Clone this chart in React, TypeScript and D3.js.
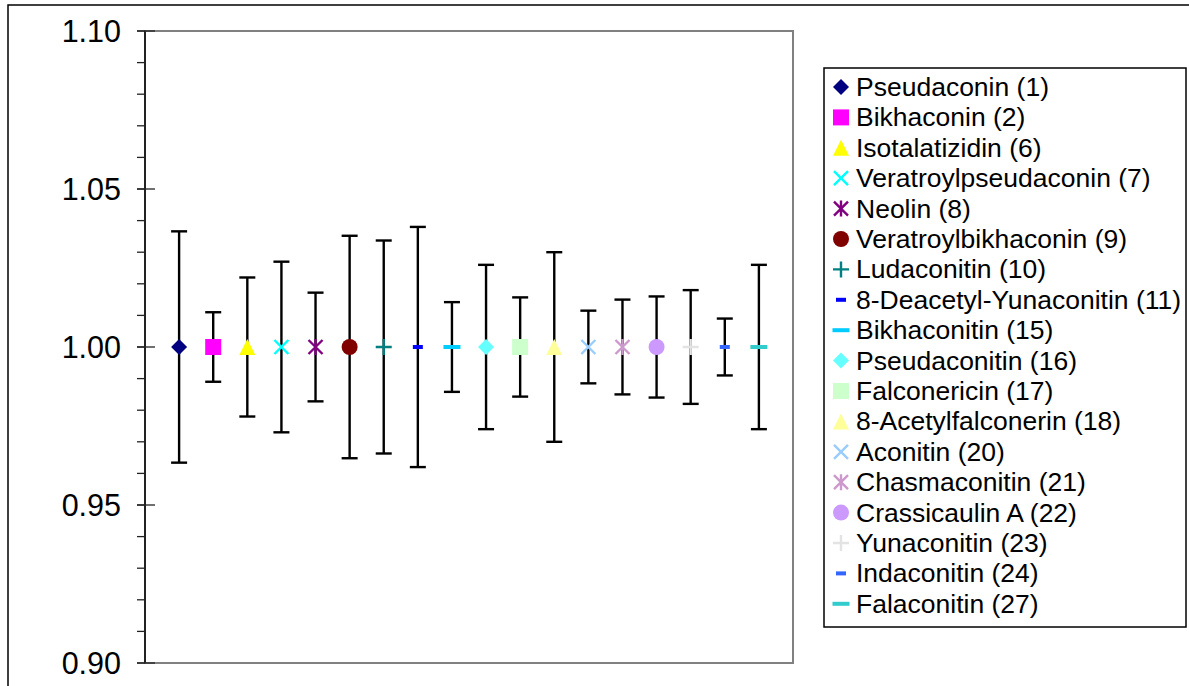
import React from "react";
import * as d3 from "d3";

const names = [
  "Pseudaconin (1)",
  "Bikhaconin (2)",
  "Isotalatizidin (6)",
  "Veratroylpseudaconin (7)",
  "Neolin (8)",
  "Veratroylbikhaconin (9)",
  "Ludaconitin (10)",
  "8-Deacetyl-Yunaconitin (11)",
  "Bikhaconitin (15)",
  "Pseudaconitin (16)",
  "Falconericin (17)",
  "8-Acetylfalconerin (18)",
  "Aconitin (20)",
  "Chasmaconitin (21)",
  "Crassicaulin A (22)",
  "Yunaconitin (23)",
  "Indaconitin (24)",
  "Falaconitin (27)",
];
const means = [1, 1, 1, 1, 1, 1, 1, 1, 1, 1, 1, 1, 1, 1, 1, 1, 1, 1];
const errors = [
  0.0366, 0.011, 0.022, 0.027, 0.0172, 0.0352, 0.0337, 0.038, 0.0142, 0.026,
  0.0157, 0.030, 0.0115, 0.015, 0.016, 0.018, 0.009, 0.026,
];
const colors = [
  "#000080", "#FF00FF", "#FFFF00", "#00FFFF", "#800080", "#800000", "#008080",
  "#0000FF", "#00CCFF", "#66FFFF", "#CCFFCC", "#FFFF99", "#99CCFF", "#CC99CC",
  "#CC99FF", "#E3E3E3", "#3366FF", "#33CCCC",
];
const shapes = [
  "diamond", "square", "triangle", "x", "star", "circle", "plus", "dashShort",
  "dashLong", "diamond", "square", "triangle", "x", "star", "circle", "plus",
  "dashShort", "dashLong",
];
const yTicks = [0.9, 0.95, 1.0, 1.05, 1.1];
const yMinorTicks = d3.range(0, 21).map((i) => 0.9 + i * 0.01);

const FONT = "Arial, 'Liberation Sans', sans-serif";

function Marker({ shape, color, x, y }: { shape: string; color: string; x: number; y: number }) {
  const t = `translate(${x},${y})`;
  switch (shape) {
    case "diamond":
      return <path transform={t} d="M0,-8L8,0L0,8L-8,0Z" fill={color} />;
    case "square":
      return <rect transform={t} x={-8} y={-8} width={16} height={16} fill={color} />;
    case "triangle":
      return <path transform={t} d="M0,-8L8,8L-8,8Z" fill={color} />;
    case "circle":
      return <circle transform={t} r={8} fill={color} />;
    case "x":
      return (
        <path transform={t} d="M-7,-7L7,7M-7,7L7,-7" stroke={color} strokeWidth={2.4} fill="none" />
      );
    case "star":
      return (
        <path
          transform={t}
          d="M-7,-7L7,7M-7,7L7,-7M0,-8L0,8"
          stroke={color}
          strokeWidth={2.4}
          fill="none"
        />
      );
    case "plus":
      return (
        <path transform={t} d="M-8,0L8,0M0,-8L0,8" stroke={color} strokeWidth={2.4} fill="none" />
      );
    case "dashShort":
      return <rect transform={t} x={-5} y={-2} width={10} height={4} fill={color} />;
    case "dashLong":
      return <rect transform={t} x={-8.5} y={-2} width={17} height={4} fill={color} />;
    default:
      return null;
  }
}

export default function App() {
  const W = 1189;
  const H = 686;
  const left = 145;
  const right = 793;
  const top = 31;
  const bottom = 663;

  const x = d3.scaleLinear().domain([0, names.length + 1]).range([left, right]);
  const y = d3.scaleLinear().domain([0.9, 1.1]).range([bottom, top]);

  const legX = 824;
  const legY = 68;
  const legW = 362;
  const legH = 559;
  const rowY0 = 87;
  const rowStep = 30.4;

  return (
    <svg
      width={W}
      height={H}
      style={{ position: "absolute", left: 0, top: 0, background: "#fff" }}
    >
      <rect x={0} y={0} width={W} height={H} fill="#fff" />
      {/* outer chart border */}
      <rect x={8} y={5} width={W + 20} height={H + 20} fill="none" stroke="#000" strokeWidth={1.5} />

      {/* plot area border */}
      <rect
        x={left}
        y={top}
        width={right - left}
        height={bottom - top}
        fill="#fff"
        stroke="#808080"
        strokeWidth={2}
      />

      {/* y axis */}
      <line x1={left} x2={left} y1={top} y2={bottom} stroke="#222" strokeWidth={2} />
      {yMinorTicks.map((v, i) => (
        <line key={"m" + i} x1={137} x2={left} y1={y(v)} y2={y(v)} stroke="#222" strokeWidth={1.3} />
      ))}
      {yTicks.map((v, i) => (
        <g key={"t" + i}>
          <line x1={137} x2={155} y1={y(v)} y2={y(v)} stroke="#222" strokeWidth={1.3} />
          <text
            x={121}
            y={y(v)}
            textAnchor="end"
            dominantBaseline="central"
            fontFamily={FONT}
            fontSize={30.5}
            fill="#000"
          >
            {d3.format(".2f")(v)}
          </text>
        </g>
      ))}

      {/* error bars */}
      {names.map((n, i) => {
        const cx = x(i + 1);
        const y1 = y(means[i] + errors[i]);
        const y2 = y(means[i] - errors[i]);
        return (
          <g key={"e" + i} stroke="#000" strokeWidth={2.4}>
            <line x1={cx} x2={cx} y1={y1} y2={y2} />
            <line x1={cx - 8} x2={cx + 8} y1={y1} y2={y1} />
            <line x1={cx - 8} x2={cx + 8} y1={y2} y2={y2} />
          </g>
        );
      })}

      {/* markers */}
      {names.map((n, i) => (
        <Marker key={"p" + i} shape={shapes[i]} color={colors[i]} x={x(i + 1)} y={y(means[i])} />
      ))}

      {/* legend */}
      <rect x={legX} y={legY} width={legW} height={legH} fill="#fff" stroke="#000" strokeWidth={1.5} />
      {names.map((n, i) => {
        const ry = rowY0 + i * rowStep;
        return (
          <g key={"l" + i}>
            <Marker shape={shapes[i]} color={colors[i]} x={841} y={ry} />
            <text
              x={856}
              y={ry}
              dominantBaseline="central"
              fontFamily={FONT}
              fontSize={26.5}
              fill="#000"
            >
              {n}
            </text>
          </g>
        );
      })}
    </svg>
  );
}
